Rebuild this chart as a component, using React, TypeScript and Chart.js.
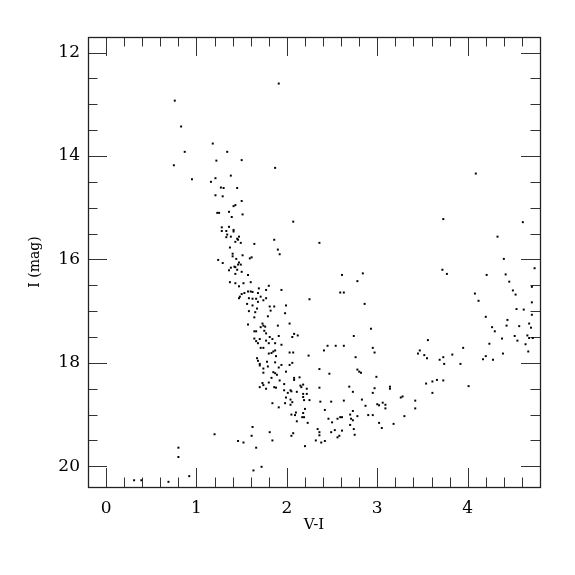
import { useEffect, useRef } from 'react';
import { Chart, registerables } from 'chart.js';

Chart.register(...registerables);

// V-I colour of each star
const viColor: number[] = [
  1.91, 0.76, 0.83, 1.18, 0.87, 1.34, 1.22, 1.50, 0.75, 1.87, 1.38, 1.21, 0.95, 1.16, 1.27, 1.30, 1.45, 1.21, 1.29, 1.50,
  1.41, 1.43, 1.23, 1.25, 1.36, 1.51, 1.39, 2.07, 1.28, 1.36, 1.28, 1.33, 1.41, 1.41, 1.34, 1.33, 1.38, 1.47, 1.45, 1.46,
  1.43, 1.49, 1.64, 1.86, 1.90, 1.92, 1.37, 1.40, 1.40, 1.51, 1.44, 1.24, 1.29, 1.61, 1.59, 1.47, 1.49, 1.46, 1.42, 1.43,
  1.38, 1.36, 1.45, 1.50, 1.43, 1.57, 2.36,
  4.09, 3.73, 4.61, 4.33, 4.40, 4.74, 2.61, 2.84, 3.72, 3.77, 4.21, 4.42,
  1.37, 1.43, 1.52, 1.60, 1.47, 1.69, 1.80, 1.94, 2.25, 1.57, 1.60, 1.62, 1.53, 1.50, 1.48, 1.47, 1.68, 1.77, 1.71, 1.77,
  1.74, 1.66, 1.58, 1.62, 1.68, 1.56, 1.62, 1.81, 1.86, 1.99, 1.82, 1.67, 1.65, 1.58, 1.98, 1.64, 1.79, 2.03, 1.57, 1.73,
  1.74, 1.76, 1.71, 1.90, 1.64, 1.66, 1.75, 1.77, 1.91, 2.06, 2.08, 2.12, 1.81, 1.84, 1.64, 1.70, 1.66, 1.77, 1.80, 1.87,
  1.94, 1.68, 1.71, 1.74, 1.87, 1.85, 1.83, 1.80, 1.88, 2.03, 2.07, 2.24, 1.67, 1.68, 1.78, 1.87, 1.94, 2.06, 1.70, 1.70,
  1.74, 1.91, 2.03, 1.79, 1.85, 1.87, 1.89, 1.74, 2.36, 1.99, 1.83, 1.92, 2.08, 2.08, 2.14, 1.80, 1.73, 1.74, 1.70, 1.77,
  1.86, 1.88, 1.97, 2.04, 2.15, 2.18, 2.16, 2.22, 2.36, 2.05, 2.01, 2.11, 2.18, 2.22, 2.18, 2.25, 1.99, 2.04, 2.19, 2.06,
  1.98, 2.04, 1.84, 1.91, 2.20, 2.10, 2.09, 2.05, 2.18, 2.19, 2.17, 2.11, 2.23, 2.34, 2.36, 2.36, 2.32, 2.07, 2.05, 2.20,
  1.81, 1.84, 1.62, 1.61, 1.66, 1.46, 1.52, 1.20, 0.80, 0.80, 1.63, 1.72, 0.92, 0.31, 0.39, 0.69, 2.37, 1.97,
  4.71, 4.46, 4.50, 4.53, 4.71, 4.08, 4.12, 2.59, 2.63, 2.78, 2.86, 4.54, 4.62, 4.71, 4.20, 4.44, 4.43, 4.57, 4.68, 4.70,
  4.27, 4.30, 2.93, 2.74, 4.38, 4.52, 4.55, 4.66, 4.68, 4.72, 4.24, 4.64, 4.67, 4.39, 4.20, 4.17, 4.28, 3.95, 3.83, 3.92,
  4.01, 3.56, 3.47, 3.45, 3.52, 3.55, 3.69, 3.73, 3.74, 3.66, 3.61, 3.73, 3.54, 3.61, 2.41, 2.45, 2.54, 2.63, 2.76, 2.47,
  2.78, 2.80, 2.82, 2.99, 2.95, 2.97, 2.69, 2.73, 2.63, 2.49, 2.42, 2.46, 2.50, 2.56, 2.59, 2.61, 2.70, 2.73, 2.71, 2.73,
  2.70, 2.74, 2.75, 2.78, 2.83, 2.87, 2.90, 2.95, 2.95, 2.97, 3.00, 3.02, 3.06, 3.09, 3.09, 3.02, 3.05, 3.14, 3.14, 3.18,
  3.26, 3.28, 3.30, 3.42, 3.42, 2.38, 2.42, 2.49, 2.53, 2.56, 2.58, 2.61,
];

// I magnitude of each star
const iMag: number[] = [
  12.60, 12.93, 13.43, 13.76, 13.92, 13.92, 14.09, 14.08, 14.18, 14.23, 14.38, 14.43, 14.45, 14.50, 14.61, 14.62, 14.62, 14.76, 14.78, 14.87,
  14.97, 14.95, 15.10, 15.10, 15.08, 15.13, 15.18, 15.27, 15.38, 15.37, 15.45, 15.45, 15.43, 15.46, 15.52, 15.57, 15.56, 15.56, 15.60, 15.62,
  15.66, 15.68, 15.70, 15.62, 15.81, 15.90, 15.77, 15.89, 15.94, 15.92, 15.99, 16.01, 16.07, 15.96, 15.98, 16.06, 16.10, 16.10, 16.14, 16.15,
  16.16, 16.21, 16.20, 16.24, 16.28, 16.30, 15.68,
  14.34, 15.22, 15.28, 15.56, 15.99, 16.17, 16.30, 16.27, 16.20, 16.28, 16.30, 16.29,
  16.44, 16.46, 16.46, 16.44, 16.52, 16.56, 16.51, 16.59, 16.77, 16.62, 16.62, 16.63, 16.65, 16.67, 16.72, 16.75, 16.65, 16.59, 16.72, 16.75,
  16.79, 16.76, 16.75, 16.76, 16.82, 16.86, 16.89, 16.91, 16.91, 16.89, 16.99, 16.95, 17.02, 17.00, 17.04, 17.12, 17.10, 17.24, 17.26, 17.24,
  17.28, 17.30, 17.31, 17.28, 17.39, 17.39, 17.38, 17.43, 17.48, 17.50, 17.44, 17.47, 17.50, 17.54, 17.53, 17.54, 17.58, 17.57, 17.62, 17.62,
  17.65, 17.62, 17.71, 17.71, 17.76, 17.78, 17.81, 17.82, 17.87, 17.80, 17.80, 17.86, 17.91, 17.96, 17.98, 17.99, 18.04, 18.00, 18.02, 18.05,
  18.11, 18.09, 18.04, 18.07, 18.18, 18.20, 18.23, 18.19, 18.12, 18.17, 18.29, 18.34, 18.29, 18.33, 18.28, 18.38, 18.39, 18.43, 18.47, 18.50,
  18.47, 18.48, 18.41, 18.53, 18.44, 18.42, 18.47, 18.50, 18.48, 18.55, 18.58, 18.56, 18.60, 18.60, 18.66, 18.72, 18.67, 18.71, 18.72, 18.76,
  18.78, 18.81, 18.78, 18.86, 18.89, 18.96, 19.01, 19.00, 18.97, 19.05, 19.05, 19.13, 19.16, 19.28, 19.34, 19.40, 19.50, 19.36, 19.41, 19.61,
  19.34, 19.50, 19.24, 19.41, 19.64, 19.51, 19.54, 19.38, 19.64, 19.82, 20.08, 20.01, 20.19, 20.27, 20.27, 20.30, 18.75, 18.53,
  16.53, 16.43, 16.60, 16.68, 16.83, 16.66, 16.80, 16.64, 16.64, 16.42, 16.86, 16.96, 16.97, 17.07, 17.11, 17.17, 17.28, 17.29, 17.24, 17.32,
  17.31, 17.39, 17.34, 17.48, 17.53, 17.48, 17.57, 17.47, 17.52, 17.52, 17.63, 17.64, 17.78, 17.82, 17.87, 17.93, 17.94, 17.71, 17.84, 18.02,
  18.45, 17.56, 17.76, 17.82, 17.85, 17.91, 17.94, 17.89, 18.02, 18.33, 18.36, 18.34, 18.40, 18.58, 17.76, 17.67, 17.67, 17.67, 17.89, 18.21,
  18.13, 18.17, 18.19, 18.27, 17.71, 17.80, 18.46, 18.56, 18.73, 18.75, 18.91, 19.08, 19.15, 19.08, 19.05, 19.05, 19.00, 18.93, 19.08, 19.11,
  19.20, 19.28, 19.39, 19.03, 18.71, 18.83, 19.01, 19.01, 18.58, 18.49, 18.80, 18.82, 18.77, 18.81, 18.88, 19.16, 19.26, 18.46, 18.50, 19.18,
  18.67, 18.65, 19.03, 18.73, 18.88, 19.54, 19.51, 19.34, 19.30, 19.44, 19.41, 19.31,
];

const xTickLabels: number[] = [0, 1, 2, 3, 4];
const yTickLabels: number[] = [12, 14, 16, 18, 20];
const xRange: [number, number] = [-0.2, 4.8];
const yRange: [number, number] = [11.7, 20.4];

const FONT = '"DejaVu Serif", "Liberation Serif", serif';

const frameTicks = {
  id: 'frameTicks',
  beforeDatasetsDraw(chart: any) {
    const { ctx, chartArea } = chart;
    const { left, right, top, bottom } = chartArea;
    const xs = chart.scales.x;
    const ys = chart.scales.y;
    ctx.save();
    ctx.strokeStyle = '#333';
    ctx.lineWidth = 1;
    ctx.beginPath();
    // x ticks every 0.2, major every 1
    for (let k = -1; k <= 24; k++) {
      const v = k / 5;
      const px = Math.round(xs.getPixelForValue(v)) + 0.5;
      if (px <= left + 1 || px >= right - 1) continue;
      const len = k % 5 === 0 ? 19 : 9.5;
      ctx.moveTo(px, bottom);
      ctx.lineTo(px, bottom - len);
      ctx.moveTo(px, top);
      ctx.lineTo(px, top + len);
    }
    // y ticks every 0.5, major every 2
    for (let k = 24; k <= 40; k++) {
      const v = k / 2;
      const py = Math.round(ys.getPixelForValue(v)) + 0.5;
      if (py <= top + 1 || py >= bottom - 1) continue;
      const len = k % 4 === 0 ? 19 : 9.5;
      ctx.moveTo(left, py);
      ctx.lineTo(left + len, py);
      ctx.moveTo(right, py);
      ctx.lineTo(right - len, py);
    }
    ctx.stroke();
    ctx.lineWidth = 1.3;
    ctx.strokeStyle = '#222';
    ctx.strokeRect(Math.round(left) + 0.5, Math.round(top) + 0.5, Math.round(right - left), Math.round(bottom - top));
    ctx.restore();
  },
};

export default function App() {
  const ref = useRef<HTMLCanvasElement | null>(null);
  useEffect(() => {
    if (!ref.current) return;
    const points = viColor.map((x, i) => ({ x, y: iMag[i] }));
    const chart = new Chart(ref.current, {
      type: 'scatter',
      data: {
        datasets: [
          {
            data: points,
            pointStyle: 'rect',
            pointRadius: 1.4,
            pointHoverRadius: 1.4,
            backgroundColor: '#000',
            borderWidth: 0,
          },
        ],
      },
      options: {
        animation: false,
        responsive: false,
        events: [],
        layout: { padding: { top: 37, right: 35, left: 0, bottom: 0 } },
        plugins: { legend: { display: false }, tooltip: { enabled: false } },
        scales: {
          x: {
            type: 'linear',
            min: xRange[0],
            max: xRange[1],
            grid: { display: false, drawTicks: false },
            border: { display: false },
            afterBuildTicks: (s: any) => {
              s.ticks = xTickLabels.map((v) => ({ value: v }));
            },
            afterFit: (s: any) => {
              s.height = 88;
            },
            ticks: {
              padding: 11,
              color: '#000',
              maxRotation: 0,
              font: { family: FONT, size: 17 },
            },
            title: {
              display: true,
              text: 'V-I',
              color: '#000',
              font: { family: FONT, size: 15 },
              padding: { top: 0, bottom: 41 },
            },
          },
          y: {
            type: 'linear',
            reverse: true,
            min: yRange[0],
            max: yRange[1],
            grid: { display: false, drawTicks: false },
            border: { display: false },
            afterBuildTicks: (s: any) => {
              s.ticks = yTickLabels.map((v) => ({ value: v }));
            },
            afterFit: (s: any) => {
              s.width = 88;
            },
            ticks: {
              padding: 8,
              color: '#000',
              font: { family: FONT, size: 17 },
            },
            title: {
              display: true,
              text: 'I (mag)',
              color: '#000',
              font: { family: FONT, size: 14 },
              padding: { top: 27, bottom: 0 },
            },
          },
        },
      },
      plugins: [frameTicks],
    });
    return () => chart.destroy();
  }, []);
  return (
    <div style={{ position: 'fixed', left: 0, top: 0, width: 575, height: 575, background: '#fff' }}>
      <canvas ref={ref} width={575} height={575} style={{ display: 'block' }} />
    </div>
  );
}
